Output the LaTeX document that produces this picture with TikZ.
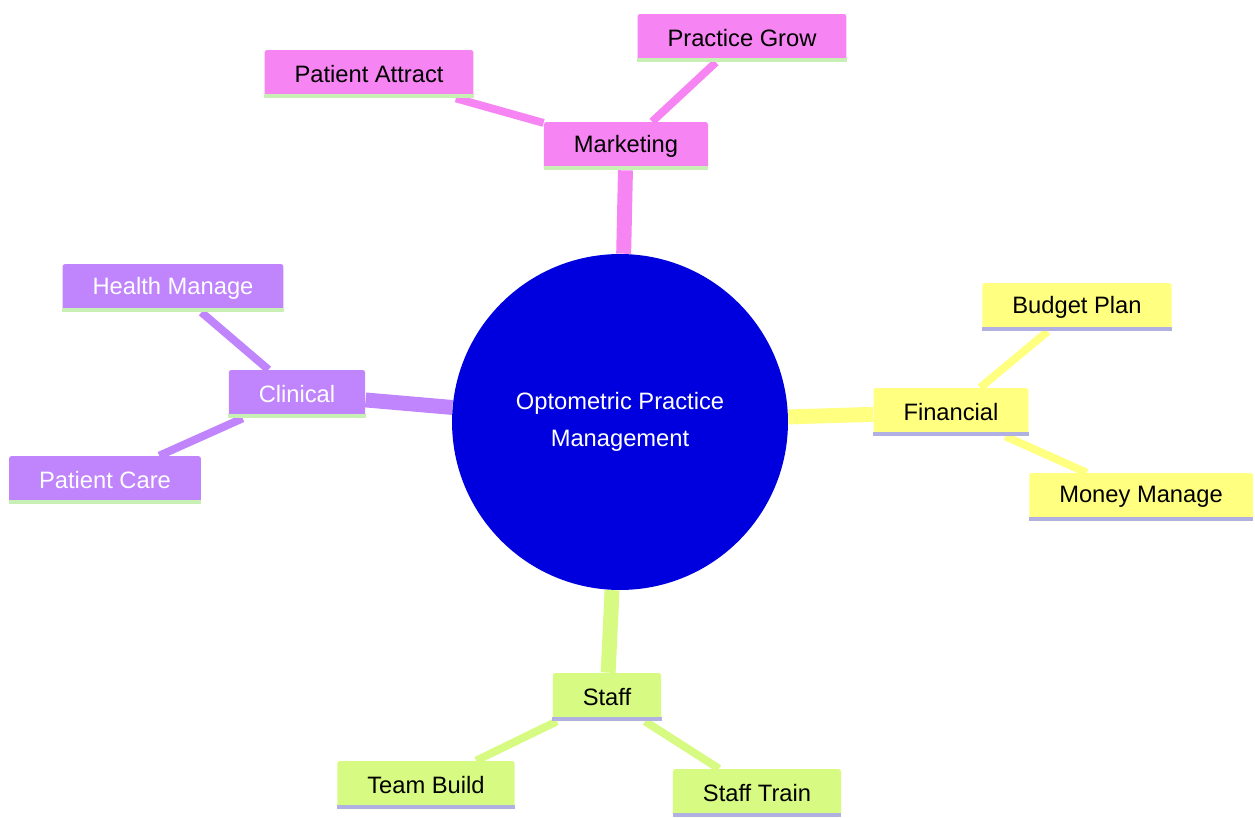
\documentclass[tikz,border=0pt]{standalone}
\usepackage{fontspec}
\setmainfont{Liberation Sans}
\usetikzlibrary{backgrounds}
\definecolor{mktpink}{RGB}{246,132,242}
\definecolor{clnpurple}{RGB}{192,132,252}
\definecolor{finyellow}{RGB}{255,255,128}
\definecolor{stfgreen}{RGB}{214,250,130}
\definecolor{hubblue}{RGB}{0,0,222}
\definecolor{lgreen}{RGB}{200,240,180}
\definecolor{lblue}{RGB}{176,176,226}
\begin{document}
\begin{tikzpicture}[x=0.02cm, y=-0.02cm,
    topic/.style={rectangle, rounded corners=1.5pt, minimum height=0.96cm, inner xsep=0.6cm, font=\fontsize{13.5}{16}\selectfont},
    trunk/.style={line width=8.5pt},
    twig/.style={line width=4.5pt}]
    \useasboundingbox (0,0) rectangle (1255,818);
				\node[circle, fill=hubblue, minimum size=6.72cm, align=center, text=white, font=\fontsize{13.5}{19}\selectfont] (hub)at(620, 422) {Optometric Practice\\[2pt]Management};
				\node[topic, fill=mktpink] (mkt)at(626, 146) {Marketing};
				\node[topic, fill=mktpink] (attract)at(369, 74) {Patient Attract};
				\node[topic, fill=mktpink] (grow)at(742, 38) {Practice Grow};
				\node[topic, fill=clnpurple, text=white] (cln)at(297, 394) {Clinical};
				\node[topic, fill=clnpurple, text=white] (health)at(173, 288) {Health Manage};
				\node[topic, fill=clnpurple, text=white] (care)at(105, 480) {Patient Care};
				\node[topic, fill=finyellow] (fin)at(951, 412) {Financial};
				\node[topic, fill=finyellow] (budget)at(1077, 307) {Budget Plan};
				\node[topic, fill=finyellow] (money)at(1141, 497) {Money Manage};
				\node[topic, fill=stfgreen] (stf)at(607, 697) {Staff};
				\node[topic, fill=stfgreen] (team)at(426, 785) {Team Build};
				\node[topic, fill=stfgreen] (train)at(757, 793) {Staff Train};
				% underlines
				\foreach \n/\c in {mkt/lgreen, attract/lgreen, grow/lgreen, cln/lgreen, health/lgreen, care/lgreen, fin/lblue, budget/lblue, money/lblue, stf/lblue, team/lblue, train/lblue}
					\draw[\c, line width=2.2pt] ([yshift=1.1pt]\n.south west) -- ([yshift=1.1pt]\n.south east);
				\begin{pgfonlayer}{background}
				\draw[trunk, mktpink] (hub) -- (mkt);
				\draw[twig, mktpink] (mkt) -- (attract);
				\draw[twig, mktpink] (mkt) -- (grow);
				\draw[trunk, clnpurple] (hub) -- (cln);
				\draw[twig, clnpurple] (cln) -- (health);
				\draw[twig, clnpurple] (cln) -- (care);
				\draw[trunk, finyellow] (hub) -- (fin);
				\draw[twig, finyellow] (fin) -- (budget);
				\draw[twig, finyellow] (fin) -- (money);
				\draw[trunk, stfgreen] (hub) -- (stf);
				\draw[twig, stfgreen] (stf) -- (team);
				\draw[twig, stfgreen] (stf) -- (train);
				\end{pgfonlayer}
\end{tikzpicture}
\end{document}
